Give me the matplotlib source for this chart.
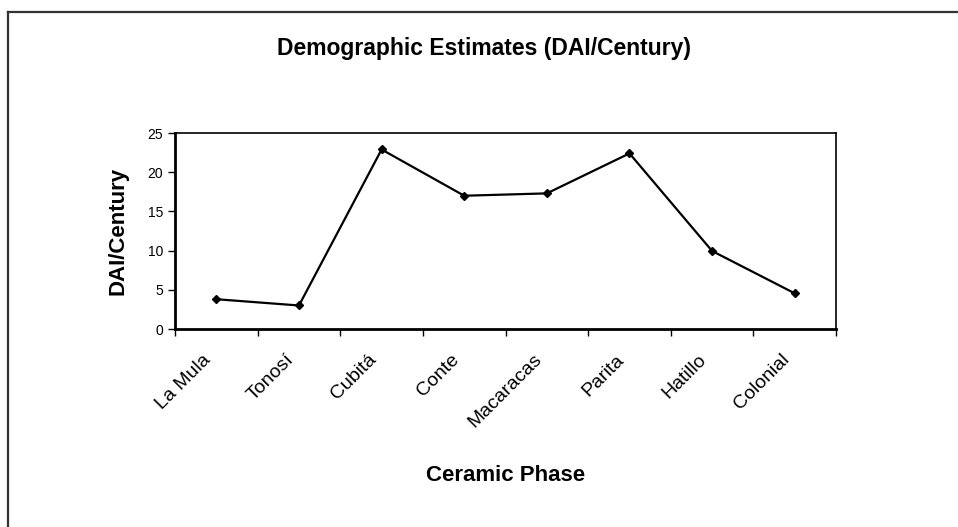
import matplotlib.pyplot as plt
from matplotlib.lines import Line2D
from matplotlib.transforms import ScaledTranslation

phases = ["La Mula", "Tonosí", "Cubitá", "Conte", "Macaracas", "Parita", "Hatillo", "Colonial"]
dai_per_century = [3.8, 3.0, 22.9, 17.0, 17.3, 22.4, 9.95, 4.55]
y_ticks = [0, 5, 10, 15, 20, 25]

plt.rcParams["font.family"] = ["Liberation Sans", "DejaVu Sans"]

fig = plt.figure(figsize=(9.58, 5.27), dpi=100)
ax = fig.add_axes([0.1827, 0.3757, 0.69, 0.3719])

x = list(range(len(phases)))
ax.plot(x, dai_per_century, color="black", lw=1.6, marker="D", markersize=4.5)

ax.set_xlim(-0.5, len(phases) - 0.5)
ax.set_ylim(0, 25)
ax.set_yticks(y_ticks)
ax.tick_params(axis="y", labelsize=10, direction="out", length=5, width=1)

# category ticks sit between categories, labels at category centres
ax.set_xticks([i - 0.5 for i in range(len(phases) + 1)])
ax.set_xticklabels([])
ax.set_xticks(x, minor=True)
ax.set_xticklabels(phases, minor=True, rotation=45, ha="right", va="top",
                   rotation_mode="anchor", fontsize=14)
ax.tick_params(axis="x", which="major", direction="out", length=5, width=1)
ax.tick_params(axis="x", which="minor", length=0, pad=16)
shift = ScaledTranslation(-14 / 100, 0, fig.dpi_scale_trans)
for lab in ax.get_xticklabels(minor=True):
    lab.set_transform(lab.get_transform() + shift)

for s in ax.spines.values():
    s.set_linewidth(1.2)
ax.spines["left"].set_linewidth(2)
ax.spines["bottom"].set_linewidth(2)

ax.set_title("Demographic Estimates (DAI/Century)", fontsize=16.5, fontweight="bold",
             pad=56, x=0.467)
ax.set_ylabel("DAI/Century", fontsize=16, fontweight="bold", labelpad=14)
ax.set_xlabel("Ceramic Phase", fontsize=16, fontweight="bold", labelpad=24)

# outer chart frame (left and top edges visible)
fig.add_artist(Line2D([8 / 958, 8 / 958], [0, 1 - 12 / 527], color="#333333", lw=1.6))
fig.add_artist(Line2D([8 / 958, 1], [1 - 12 / 527, 1 - 12 / 527], color="#333333", lw=1.6))

fig.savefig("out.png", dpi=100)
